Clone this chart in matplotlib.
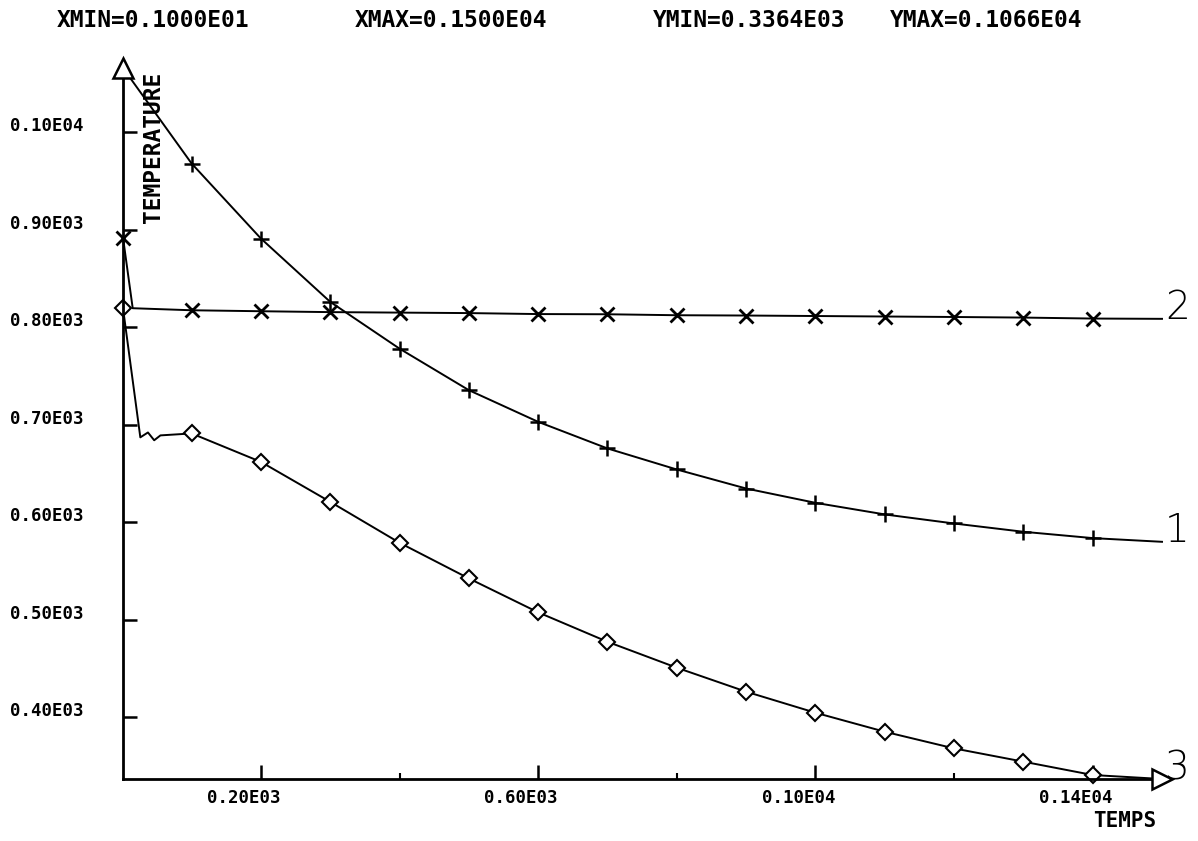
import matplotlib
matplotlib.use('Agg')
import matplotlib.pyplot as plt
import matplotlib.transforms as mtransforms

# courbe 1 (+)
temps_1 = [1, 100, 200, 300, 400, 500, 600, 700, 800, 900, 1000, 1100, 1200, 1300, 1400, 1500]
temp_1 = [1066, 968, 891, 826, 778, 735.4, 702.9, 675.6, 654, 634.5, 619.8, 607.9, 598.6, 590.1, 583.6, 579.8]

# courbe 2 (x)
temps_2 = [1, 15, 100, 200, 300, 400, 500, 600, 700, 800, 900, 1000, 1100, 1200, 1300, 1400, 1500]
temp_2 = [892, 819.5, 817.4, 816.4, 815.5, 815, 814.5, 813.5, 813.3, 812.3, 812, 811.5, 811, 810.5, 809.9, 808.9, 808.6]

# courbe 3 (losange)
temps_3 = [1, 26, 37, 46, 55, 100, 200, 300, 400, 500, 600, 700, 800, 900, 1000, 1100, 1200, 1300, 1400, 1500]
temp_3 = [819.5, 687, 692, 684, 689, 691, 661.8, 620.8, 578.8, 542.2, 507.4, 477.2, 450.6, 426, 404.4, 384.9, 367.8, 354.2, 340.5, 336.4]

xmin, xmax = 1, 1500
ymin, ymax = 336.4, 1066

yticks = [400, 500, 600, 700, 800, 900, 1000]
ytick_labels = ['0.40E03', '0.50E03', '0.60E03', '0.70E03', '0.80E03', '0.90E03', '0.10E04']
xticks = [200, 600, 1000, 1400]
xtick_labels = ['0.20E03', '0.60E03', '0.10E04', '0.14E04']
xticks_minor = [400, 800, 1200]

mono = dict(family='DejaVu Sans Mono', fontweight='bold')

fig = plt.figure(figsize=(11.98, 8.41), dpi=100)
ax = fig.add_axes([0.10267, 0.07372, 0.86728, 0.84542])
ax.set_xlim(xmin, xmax)
ax.set_ylim(ymin, ymax)

def marks(ts, keep_first):
    idx = [i for i, t in enumerate(ts) if t % 100 == 0 and t < xmax]
    if keep_first:
        idx = [0] + idx
    return idx

ax.plot(temps_1, temp_1, color='black', lw=1.4, marker='+', ms=11, mew=1.8,
        markevery=marks(temps_1, False), clip_on=False)
ax.plot(temps_2, temp_2, color='black', lw=1.4, marker='x', ms=10, mew=2,
        markevery=marks(temps_2, True), clip_on=False)
ax.plot(temps_3, temp_3, color='black', lw=1.4, marker='D', ms=8, mew=1.5,
        mfc='white', markevery=marks(temps_3, True), clip_on=False)

# numeros des courbes
for ts, vals, name in [(temps_1, temp_1, '1'), (temps_2, temp_2, '2'), (temps_3, temp_3, '3')]:
    off = mtransforms.ScaledTranslation(0.03, 0, fig.dpi_scale_trans)
    ax.text(ts[-1], vals[-1], name, fontsize=28, family='DejaVu Sans', fontweight='light',
            ha='left', va='baseline', transform=ax.transData + off, clip_on=False)

# axes style traceur
for s in ['top', 'right']:
    ax.spines[s].set_visible(False)
for s in ['left', 'bottom']:
    ax.spines[s].set_linewidth(2)
ax.plot([xmin], [ymax], marker='^', ms=15, mfc='white', mec='black', mew=1.8, clip_on=False, zorder=5)
ax.plot([xmax], [ymin], marker='>', ms=15, mfc='white', mec='black', mew=1.8, clip_on=False, zorder=5)

ax.set_yticks(yticks)
ax.set_xticks(xticks)
ax.set_xticks(xticks_minor, minor=True)
ax.tick_params(axis='y', direction='in', length=10, width=1.8, labelleft=False)
ax.tick_params(axis='x', which='major', direction='in', length=10, width=1.8, labelbottom=False)
ax.tick_params(axis='x', which='minor', direction='in', length=4, width=1.5)

up = mtransforms.ScaledTranslation(0, 0.06, fig.dpi_scale_trans)
ytrans = mtransforms.blended_transform_factory(ax.transAxes, ax.transData) + up
for v, lab in zip(yticks, ytick_labels):
    ax.text(-0.1088, v, lab, fontsize=12.5, ha='left', va='center', transform=ytrans, **mono)

down = mtransforms.ScaledTranslation(-0.17, -0.19, fig.dpi_scale_trans)
xtrans = mtransforms.blended_transform_factory(ax.transData, ax.transAxes) + down
for v, lab in zip(xticks, xtick_labels):
    ax.text(v, 0, lab, fontsize=12.5, ha='center', va='center', transform=xtrans, **mono)

# titres
ax.text(0.1185, 0.9144, 'TEMPERATURE', rotation=90, fontsize=16.5, ha='left', va='top',
        transform=fig.transFigure, **mono)
fig.text(0.939, 0.0238, 'TEMPS', fontsize=15, ha='center', va='center', **mono)

header = ['XMIN=0.1000E01', 'XMAX=0.1500E04', 'YMIN=0.3364E03', 'YMAX=0.1066E04']
for xpos, h in zip([0.0476, 0.2963, 0.5451, 0.7429], header):
    fig.text(xpos, 0.9762, h, fontsize=16.5, ha='left', va='center', **mono)

plt.savefig('out.png', dpi=100)
